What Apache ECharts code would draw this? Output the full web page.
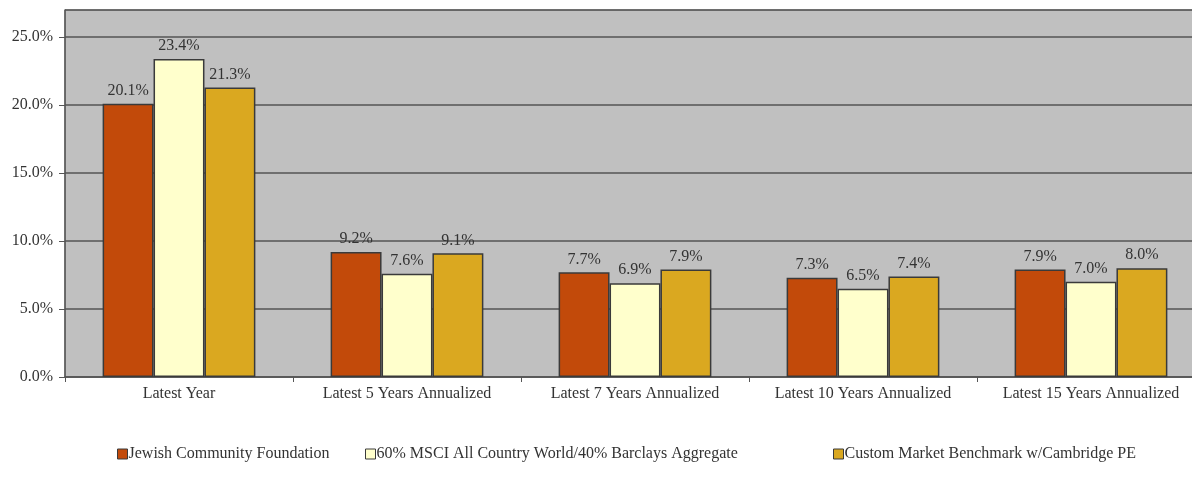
<!DOCTYPE html>
<html>
<head>
<meta charset="utf-8">
<script src="https://cdn.jsdelivr.net/npm/echarts@6/dist/echarts.min.js"></script>
<style>
  html, body { margin: 0; padding: 0; background: #fff; overflow: hidden; }
  #chart { width: 1205px; height: 490px; }
</style>
</head>
<body>
<div id="chart"></div>
<script>
// Annualized returns by period
const categories = ['Latest Year', 'Latest 5 Years Annualized', 'Latest 7 Years Annualized', 'Latest 10 Years Annualized', 'Latest 15 Years Annualized'];
const seriesNames = ['Jewish Community Foundation', '60% MSCI All Country World/40% Barclays Aggregate', 'Custom Market Benchmark w/Cambridge PE'];
const jcfValues = [20.1, 9.2, 7.7, 7.3, 7.9];
const msciValues = [23.4, 7.6, 6.9, 6.5, 7.0];
const customValues = [21.3, 9.1, 7.9, 7.4, 8.0];
const colors = ['#C24A0A', '#FFFFCC', '#DAA820'];

const font = '"Liberation Serif", "DejaVu Serif", serif';
const chart = echarts.init(document.getElementById('chart'));

const allValues = [jcfValues, msciValues, customValues];
const series = allValues.map((vals, i) => ({
  name: seriesNames[i],
  type: 'bar',
  data: vals,
  barGap: '0%',
  barCategoryGap: '33%',
  itemStyle: { color: colors[i], borderColor: '#3a3a3a', borderWidth: 1.5 },
  label: {
    show: true, position: 'top', distance: 5,
    formatter: p => p.value.toFixed(1) + '%',
    fontFamily: font, fontSize: 16, color: '#333'
  }
}));

const legendLefts = [112, 360, 828];
const legends = seriesNames.map((n, i) => ({
  data: [n], left: legendLefts[i], top: 441,
  itemWidth: 10, itemHeight: 10, icon: 'rect',
  itemStyle: { borderColor: '#3a3a3a', borderWidth: 1 },
  textStyle: { fontFamily: font, fontSize: 16, color: '#333', padding: [0, 0, 0, -4] },
  selectedMode: false
}));

chart.setOption({
  animation: false,
  textStyle: { fontFamily: font },
  legend: legends,
  grid: { left: 65, top: 10, right: 0, bottom: 113, backgroundColor: '#C0C0C0', show: true, borderColor: '#7a7a7a', borderWidth: 1 },
  xAxis: {
    type: 'category', data: categories,
    axisLine: { lineStyle: { color: '#555', width: 1.5 } },
    axisTick: { show: true, length: 5, lineStyle: { color: '#555' } },
    axisLabel: { fontFamily: font, fontSize: 16, color: '#333', margin: 9, interval: 0 }
  },
  yAxis: {
    type: 'value', min: 0, max: 27, interval: 5,
    axisLine: { show: true, lineStyle: { color: '#555', width: 1.5 } },
    axisTick: { show: true, length: 6, lineStyle: { color: '#555' } },
    axisLabel: { fontFamily: font, fontSize: 16, color: '#333', margin: 12, showMaxLabel: false,
      formatter: v => v.toFixed(1) + '%' },
    splitLine: { lineStyle: { color: '#555', width: 1.5 } }
  },
  series: series
});
</script>
</body>
</html>
